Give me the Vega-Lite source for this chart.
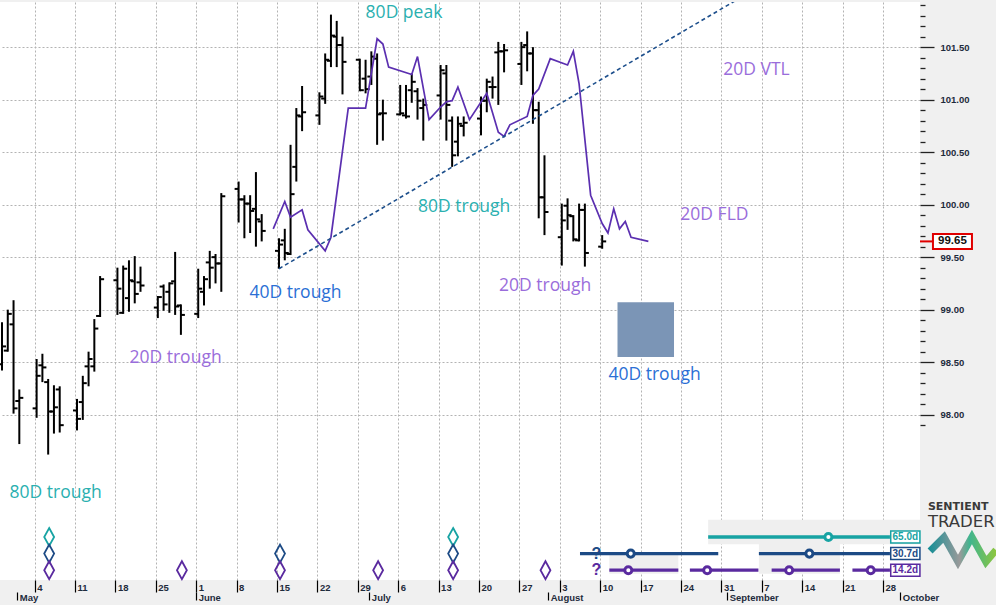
{
  "$schema": "https://vega.github.io/schema/vega-lite/v6.json",
  "background": "#f0f0f0",
  "padding": {"left": 0, "top": 0, "right": 0, "bottom": 8},
  "spacing": 0,
  "bounds": "flush",
  "resolve": {"scale": {"color": "independent", "stroke": "independent"}},
  "config": {"view": {"fill": "white", "stroke": null}, "concat": {"spacing": 0}},
  "datasets": {
    "bars": [
      {"date":"2020-04-28","o":98.48,"h":98.88,"l":98.42,"c":98.65},
      {"date":"2020-04-29","o":98.61,"h":99.00,"l":98.60,"c":98.96},
      {"date":"2020-04-30","o":98.86,"h":99.09,"l":98.01,"c":98.06},
      {"date":"2020-05-01","o":98.13,"h":98.24,"l":97.72,"c":98.16},
      {"date":"2020-05-04","o":98.06,"h":98.53,"l":97.97,"c":98.37},
      {"date":"2020-05-05","o":98.47,"h":98.58,"l":98.31,"c":98.45},
      {"date":"2020-05-06","o":98.31,"h":98.34,"l":97.62,"c":98.03},
      {"date":"2020-05-07","o":98.03,"h":98.28,"l":97.82,"c":98.07},
      {"date":"2020-05-08","o":98.24,"h":98.27,"l":97.83,"c":97.90},
      {"date":"2020-05-11","o":98.04,"h":98.15,"l":97.85,"c":97.96},
      {"date":"2020-05-12","o":98.12,"h":98.37,"l":97.95,"c":98.30},
      {"date":"2020-05-13","o":98.46,"h":98.60,"l":98.27,"c":98.53},
      {"date":"2020-05-14","o":98.46,"h":98.91,"l":98.41,"c":98.82},
      {"date":"2020-05-15","o":98.94,"h":99.32,"l":98.93,"c":99.29},
      {"date":"2020-05-18","o":99.28,"h":99.40,"l":98.95,"c":99.20},
      {"date":"2020-05-19","o":98.97,"h":99.42,"l":98.96,"c":99.39},
      {"date":"2020-05-20","o":99.11,"h":99.47,"l":98.98,"c":99.28},
      {"date":"2020-05-21","o":99.27,"h":99.51,"l":99.06,"c":99.15},
      {"date":"2020-05-22","o":99.26,"h":99.41,"l":99.17,"c":99.23},
      {"date":"2020-05-25","o":99.02,"h":99.13,"l":98.92,"c":99.12},
      {"date":"2020-05-26","o":99.22,"h":99.24,"l":98.99,"c":99.05},
      {"date":"2020-05-27","o":99.17,"h":99.26,"l":98.97,"c":99.25},
      {"date":"2020-05-28","o":99.27,"h":99.55,"l":98.95,"c":99.03},
      {"date":"2020-05-29","o":99.04,"h":99.05,"l":98.76,"c":98.95},
      {"date":"2020-06-01","o":98.96,"h":99.39,"l":98.92,"c":99.20},
      {"date":"2020-06-02","o":99.17,"h":99.32,"l":99.04,"c":99.29},
      {"date":"2020-06-03","o":99.45,"h":99.56,"l":99.20,"c":99.40},
      {"date":"2020-06-04","o":99.50,"h":99.53,"l":99.25,"c":99.44},
      {"date":"2020-06-05","o":99.44,"h":100.11,"l":99.17,"c":100.08},
      {"date":"2020-06-08","o":100.15,"h":100.22,"l":99.83,"c":100.05},
      {"date":"2020-06-09","o":100.05,"h":100.09,"l":99.68,"c":100.01},
      {"date":"2020-06-10","o":100.01,"h":100.09,"l":99.73,"c":99.94},
      {"date":"2020-06-11","o":99.96,"h":100.31,"l":99.60,"c":99.86},
      {"date":"2020-06-12","o":99.84,"h":99.91,"l":99.65,"c":99.75},
      {"date":"2020-06-15","o":99.56,"h":99.68,"l":99.39,"c":99.62},
      {"date":"2020-06-16","o":99.66,"h":99.77,"l":99.47,"c":99.54},
      {"date":"2020-06-17","o":99.53,"h":100.57,"l":99.52,"c":100.10},
      {"date":"2020-06-18","o":100.36,"h":100.92,"l":100.22,"c":100.85},
      {"date":"2020-06-19","o":100.84,"h":101.13,"l":100.70,"c":100.88},
      {"date":"2020-06-22","o":100.85,"h":101.07,"l":100.76,"c":101.03},
      {"date":"2020-06-23","o":101.01,"h":101.44,"l":100.96,"c":101.38},
      {"date":"2020-06-24","o":101.37,"h":101.81,"l":101.31,"c":101.61},
      {"date":"2020-06-25","o":101.60,"h":101.75,"l":101.31,"c":101.52},
      {"date":"2020-06-26","o":101.52,"h":101.60,"l":101.05,"c":101.36},
      {"date":"2020-06-29","o":101.38,"h":101.39,"l":101.08,"c":101.09},
      {"date":"2020-06-30","o":101.20,"h":101.38,"l":101.06,"c":101.10},
      {"date":"2020-07-01","o":101.22,"h":101.46,"l":101.14,"c":101.41},
      {"date":"2020-07-02","o":101.39,"h":101.44,"l":100.57,"c":100.86},
      {"date":"2020-07-03","o":100.87,"h":101.00,"l":100.61,"c":100.87},
      {"date":"2020-07-06","o":100.86,"h":101.14,"l":100.85,"c":100.87},
      {"date":"2020-07-07","o":100.85,"h":101.14,"l":100.82,"c":100.84},
      {"date":"2020-07-08","o":101.09,"h":101.25,"l":100.97,"c":101.17},
      {"date":"2020-07-09","o":101.08,"h":101.11,"l":100.81,"c":100.99},
      {"date":"2020-07-10","o":100.92,"h":101.01,"l":100.61,"c":100.95},
      {"date":"2020-07-13","o":101.04,"h":101.33,"l":100.81,"c":101.28},
      {"date":"2020-07-14","o":101.25,"h":101.33,"l":100.61,"c":100.95},
      {"date":"2020-07-15","o":100.80,"h":100.84,"l":100.36,"c":100.47},
      {"date":"2020-07-16","o":100.60,"h":100.84,"l":100.46,"c":100.77},
      {"date":"2020-07-17","o":100.75,"h":100.84,"l":100.65,"c":100.78},
      {"date":"2020-07-20","o":100.82,"h":101.03,"l":100.66,"c":100.99},
      {"date":"2020-07-21","o":100.99,"h":101.20,"l":100.88,"c":101.17},
      {"date":"2020-07-22","o":101.12,"h":101.22,"l":101.01,"c":101.12},
      {"date":"2020-07-23","o":101.45,"h":101.55,"l":100.95,"c":101.46},
      {"date":"2020-07-24","o":101.46,"h":101.53,"l":101.26,"c":101.47},
      {"date":"2020-07-27","o":101.34,"h":101.55,"l":101.14,"c":101.50},
      {"date":"2020-07-28","o":101.52,"h":101.65,"l":101.27,"c":101.44},
      {"date":"2020-07-29","o":101.44,"h":101.50,"l":100.77,"c":100.90},
      {"date":"2020-07-30","o":100.90,"h":100.98,"l":99.87,"c":100.07},
      {"date":"2020-07-31","o":100.07,"h":100.47,"l":99.71,"c":99.93},
      {"date":"2020-08-03","o":99.69,"h":100.01,"l":99.42,"c":99.85},
      {"date":"2020-08-04","o":99.99,"h":100.06,"l":99.76,"c":99.90},
      {"date":"2020-08-05","o":99.89,"h":99.90,"l":99.65,"c":99.67},
      {"date":"2020-08-06","o":99.66,"h":100.01,"l":99.65,"c":99.95},
      {"date":"2020-08-07","o":99.95,"h":100.01,"l":99.41,"c":99.54},
      {"date":"2020-08-10","o":99.60,"h":99.71,"l":99.58,"c":99.65}
    ],
    "fld": [
      {"date":"2020-06-14","value":99.77},{"date":"2020-06-16","value":100.03},{"date":"2020-06-17","value":99.88},
      {"date":"2020-06-19","value":99.95},{"date":"2020-06-20","value":99.76},{"date":"2020-06-23","value":99.56},
      {"date":"2020-06-24","value":99.69},{"date":"2020-06-27","value":100.92},{"date":"2020-06-30","value":100.92},
      {"date":"2020-07-02","value":101.58},{"date":"2020-07-03","value":101.53},{"date":"2020-07-04","value":101.31},
      {"date":"2020-07-08","value":101.24},{"date":"2020-07-09","value":101.41},{"date":"2020-07-11","value":100.81},
      {"date":"2020-07-13","value":100.93},{"date":"2020-07-14","value":100.98},{"date":"2020-07-15","value":100.99},
      {"date":"2020-07-16","value":101.12},{"date":"2020-07-18","value":100.81},{"date":"2020-07-21","value":101.06},
      {"date":"2020-07-23","value":100.69},{"date":"2020-07-24","value":100.65},{"date":"2020-07-25","value":100.76},
      {"date":"2020-07-28","value":100.84},{"date":"2020-07-29","value":101.04},{"date":"2020-07-30","value":101.10},
      {"date":"2020-08-01","value":101.39},{"date":"2020-08-04","value":101.33},{"date":"2020-08-05","value":101.46},
      {"date":"2020-08-06","value":101.15},{"date":"2020-08-08","value":100.09},{"date":"2020-08-10","value":99.82},
      {"date":"2020-08-11","value":99.73},{"date":"2020-08-12","value":99.96},{"date":"2020-08-13","value":99.77},
      {"date":"2020-08-14","value":99.84},{"date":"2020-08-15","value":99.69},{"date":"2020-08-18","value":99.65}
    ],
    "vtl": [{"date":"2020-06-15","value":99.39},{"date":"2020-09-02","value":101.94}],
    "proj": [{"date":"2020-08-13","end":"2020-08-22T19:00:00Z","low":98.55,"high":99.07}],
    "notes": [
      {"date":"2020-07-07T00:00:00Z","value":101.83,"text":"80D peak","cycle":"80D"},
      {"date":"2020-09-06T02:00:00Z","value":101.28,"text":"20D VTL","cycle":"20D"},
      {"date":"2020-07-17T10:00:00Z","value":99.98,"text":"80D trough","cycle":"80D"},
      {"date":"2020-08-29T19:00:00Z","value":99.90,"text":"20D FLD","cycle":"20D"},
      {"date":"2020-06-18T05:00:00Z","value":99.16,"text":"40D trough","cycle":"40D"},
      {"date":"2020-07-31T11:00:00Z","value":99.23,"text":"20D trough","cycle":"20D"},
      {"date":"2020-05-28T10:00:00Z","value":98.54,"text":"20D trough","cycle":"20D"},
      {"date":"2020-08-19T10:00:00Z","value":98.38,"text":"40D trough","cycle":"40D"},
      {"date":"2020-05-07T15:00:00Z","value":97.25,"text":"80D trough","cycle":"80D"}
    ],
    "last": [{"date":"2020-10-04T10:00:00Z","end":"2020-10-06T16:00:00Z","box":"2020-10-10T01:00:00Z","value":99.65}],
    "bands": [
      {"start":"2020-08-28T17:00:00Z","end":"2020-10-04T10:00:00Z","top":-0.04,"bottom":1.44},
      {"start":"2020-09-06T12:00:00Z","end":"2020-09-20T13:00:00Z","top":1.42,"bottom":3.21},
      {"start":"2020-08-11T14:00:00Z","end":"2020-08-23T13:00:00Z","top":2.09,"bottom":3.21}
    ],
    "diamonds": [
      {"date":"2020-05-06","cycle":"80D","lane":1},{"date":"2020-05-06","cycle":"40D","lane":2},{"date":"2020-05-06","cycle":"20D","lane":3},
      {"date":"2020-05-29","cycle":"20D","lane":3},
      {"date":"2020-06-15","cycle":"40D","lane":2},{"date":"2020-06-15","cycle":"20D","lane":3},
      {"date":"2020-07-02","cycle":"20D","lane":3},
      {"date":"2020-07-15","cycle":"80D","lane":1},{"date":"2020-07-15","cycle":"40D","lane":2},{"date":"2020-07-15","cycle":"20D","lane":3},
      {"date":"2020-07-31","cycle":"20D","lane":3}
    ],
    "segments": [
      {"start":"2020-08-28T17:00:00Z","end":"2020-09-29T05:00:00Z","cycle":"80D","lane":1},
      {"start":"2020-08-06T12:00:00Z","end":"2020-08-30T11:00:00Z","cycle":"40D","lane":2},
      {"start":"2020-09-06T12:00:00Z","end":"2020-09-29T05:00:00Z","cycle":"40D","lane":2},
      {"start":"2020-08-11T14:00:00Z","end":"2020-08-23T13:00:00Z","cycle":"20D","lane":3},
      {"start":"2020-08-25T13:00:00Z","end":"2020-09-06T10:00:00Z","cycle":"20D","lane":3},
      {"start":"2020-09-08T17:00:00Z","end":"2020-09-20T13:00:00Z","cycle":"20D","lane":3},
      {"start":"2020-09-22T17:00:00Z","end":"2020-09-29T05:00:00Z","cycle":"20D","lane":3}
    ],
    "dots": [
      {"date":"2020-09-18T13:00:00Z","cycle":"80D","lane":1},
      {"date":"2020-08-15T07:00:00Z","cycle":"40D","lane":2},
      {"date":"2020-09-15T06:00:00Z","cycle":"40D","lane":2},
      {"date":"2020-08-14T21:00:00Z","cycle":"20D","lane":3},
      {"date":"2020-08-28T13:00:00Z","cycle":"20D","lane":3},
      {"date":"2020-09-11T18:00:00Z","cycle":"20D","lane":3},
      {"date":"2020-09-25T21:00:00Z","cycle":"20D","lane":3}
    ],
    "unknown": [
      {"date":"2020-08-09T08:00:00Z","cycle":"40D","lane":2,"text":"?"},
      {"date":"2020-08-09T08:00:00Z","cycle":"20D","lane":3,"text":"?"}
    ],
    "periods": [
      {"date":"2020-10-01T21:00:00Z","cycle":"80D","lane":1,"text":"65.0d"},
      {"date":"2020-10-01T21:00:00Z","cycle":"40D","lane":2,"text":"30.7d"},
      {"date":"2020-10-01T21:00:00Z","cycle":"20D","lane":3,"text":"14.2d"}
    ],
    "logo1": [{"date":"2020-10-05T19:00:00Z","lane":-0.78,"text":"SENTIENT"}],
    "logo2": [{"date":"2020-10-05T19:00:00Z","lane":0.1,"text":"TRADER"}],
    "logomark": [
      {"date":"2020-10-06T04:00:00Z","lane":1.84},
      {"date":"2020-10-08T14:00:00Z","lane":1.0},
      {"date":"2020-10-11T00:00:00Z","lane":2.51},
      {"date":"2020-10-13T10:00:00Z","lane":1.0},
      {"date":"2020-10-15T20:00:00Z","lane":2.51},
      {"date":"2020-10-17T14:00:00Z","lane":1.78}
    ]
  },
  "vconcat": [
    {
      "width": 920,
      "height": 510,
      "encoding": {
        "x": {
          "field": "date", "type": "temporal",
          "scale": {"type": "utc", "domain": [{"year":2020,"month":4,"date":28,"utc":true},{"year":2020,"month":10,"date":4,"hours":10,"utc":true}]},
          "axis": {
            "values": [
              {"year":2020,"month":5,"date":4,"utc":true},{"year":2020,"month":5,"date":11,"utc":true},{"year":2020,"month":5,"date":18,"utc":true},{"year":2020,"month":5,"date":25,"utc":true},
              {"year":2020,"month":6,"date":1,"utc":true},{"year":2020,"month":6,"date":8,"utc":true},{"year":2020,"month":6,"date":15,"utc":true},{"year":2020,"month":6,"date":22,"utc":true},{"year":2020,"month":6,"date":29,"utc":true},
              {"year":2020,"month":7,"date":6,"utc":true},{"year":2020,"month":7,"date":13,"utc":true},{"year":2020,"month":7,"date":20,"utc":true},{"year":2020,"month":7,"date":27,"utc":true},
              {"year":2020,"month":8,"date":3,"utc":true},{"year":2020,"month":8,"date":10,"utc":true},{"year":2020,"month":8,"date":17,"utc":true},{"year":2020,"month":8,"date":24,"utc":true},{"year":2020,"month":8,"date":31,"utc":true},
              {"year":2020,"month":9,"date":7,"utc":true},{"year":2020,"month":9,"date":14,"utc":true},{"year":2020,"month":9,"date":21,"utc":true},{"year":2020,"month":9,"date":28,"utc":true}
            ],
            "tickCount": 60,
            "grid": true, "gridDash": [2, 2], "gridColor": "#b3b3b3", "gridWidth": 1,
            "labels": false, "ticks": false, "domain": false, "title": null,
            "minExtent": 0, "maxExtent": 0
          }
        }
      },
      "layer": [
        {
          "data": {"name": "bars"},
          "mark": {"type": "rule", "color": "#000000", "strokeWidth": 2, "xOffset": 2, "clip": true},
          "encoding": {
            "y": {
              "field": "l", "type": "quantitative",
              "scale": {"domain": [97.073, 101.93], "zero": false, "nice": false},
              "axis": {
                "orient": "right",
                "values": [97.9,98,98.1,98.2,98.3,98.4,98.5,98.6,98.7,98.8,98.9,99,99.1,99.2,99.3,99.4,99.5,99.6,99.7,99.8,99.9,100,100.1,100.2,100.3,100.4,100.5,100.6,100.7,100.8,100.9,101,101.1,101.2,101.3,101.4,101.5,101.6,101.7,101.8,101.9],
                "tickCount": 100,
                "labelExpr": "abs(datum.value*2-round(datum.value*2))<0.001 ? format(datum.value,'.2f') : ''",
                "grid": true, "gridDash": [2, 2], "gridColor": "#b3b3b3",
                "gridOpacity": {"condition": {"test": "abs(datum.value*2-round(datum.value*2))<0.001", "value": 1}, "value": 0},
                "tickSize": {"condition": {"test": "abs(datum.value*2-round(datum.value*2))<0.001", "value": 14}, "value": 5},
                "tickColor": "#222222", "tickWidth": 1.3,
                "domain": false, "title": null,
                "labelPadding": 6, "labelFont": "Liberation Sans", "labelFontSize": 9.5, "labelFontWeight": "bold", "labelColor": "#1e2b3c",
                "labelBaseline": "middle", "labelOverlap": false, "labelBound": false, "labelFlush": false,
                "minExtent": 76, "maxExtent": 76
              }
            },
            "y2": {"field": "h"}
          }
        },
        {
          "data": {"name": "bars"},
          "mark": {"type": "point", "shape": "M-1,0L0,0", "size": 64, "filled": false, "stroke": "#000000", "strokeWidth": 2, "opacity": 1, "xOffset": 2, "clip": true},
          "encoding": {"y": {"field": "o", "type": "quantitative", "scale": {"domain": [97.073, 101.93], "zero": false, "nice": false}}}
        },
        {
          "data": {"name": "bars"},
          "mark": {"type": "point", "shape": "M0,0L1,0", "size": 64, "filled": false, "stroke": "#000000", "strokeWidth": 2, "opacity": 1, "xOffset": 2, "clip": true},
          "encoding": {"y": {"field": "c", "type": "quantitative", "scale": {"domain": [97.073, 101.93], "zero": false, "nice": false}}}
        },
        {
          "data": {"name": "fld"},
          "mark": {"type": "line", "color": "#5b2fb0", "strokeWidth": 1.7, "xOffset": 2},
          "encoding": {"y": {"field": "value", "type": "quantitative", "scale": {"domain": [97.073, 101.93], "zero": false, "nice": false}}}
        },
        {
          "data": {"name": "vtl"},
          "mark": {"type": "line", "color": "#1d4f8c", "strokeWidth": 1.6, "strokeDash": [4, 3], "clip": true, "xOffset": 2},
          "encoding": {"y": {"field": "value", "type": "quantitative", "scale": {"domain": [97.073, 101.93], "zero": false, "nice": false}}}
        },
        {
          "data": {"name": "proj"},
          "mark": {"type": "rect", "color": "#7b95b6", "opacity": 1},
          "encoding": {
            "x2": {"field": "end"},
            "y": {"field": "low", "type": "quantitative", "scale": {"domain": [97.073, 101.93], "zero": false, "nice": false}},
            "y2": {"field": "high"}
          }
        },
        {
          "data": {"name": "notes"},
          "mark": {"type": "text", "font": "Open Sans", "fontSize": 17.5, "align": "center", "baseline": "middle"},
          "encoding": {
            "y": {"field": "value", "type": "quantitative", "scale": {"domain": [97.073, 101.93], "zero": false, "nice": false}},
            "text": {"field": "text"},
            "color": {"field": "cycle", "type": "nominal", "scale": {"domain": ["80D", "40D", "20D"], "range": ["#2ab0b0", "#2b6fd5", "#9a6ddb"]}, "legend": null}
          }
        },
        {
          "data": {"name": "last"},
          "mark": {"type": "rule", "color": "#e00000", "strokeWidth": 2},
          "encoding": {
            "x2": {"field": "end"},
            "y": {"field": "value", "type": "quantitative", "scale": {"domain": [97.073, 101.93], "zero": false, "nice": false}}
          }
        },
        {
          "data": {"name": "last"},
          "mark": {"type": "point", "shape": "M-1,-0.385L1,-0.385L1,0.385L-1,0.385Z", "size": 1521, "filled": true, "fill": "#ffffff", "stroke": "#e00000", "strokeWidth": 2, "opacity": 1},
          "encoding": {
            "x": {"field": "box", "type": "temporal"},
            "y": {"field": "value", "type": "quantitative", "scale": {"domain": [97.073, 101.93], "zero": false, "nice": false}}
          }
        },
        {
          "data": {"name": "last"},
          "mark": {"type": "text", "font": "Liberation Sans", "fontSize": 11.5, "fontWeight": "bold", "color": "#111111", "align": "center", "baseline": "middle"},
          "encoding": {
            "x": {"field": "box", "type": "temporal"},
            "y": {"field": "value", "type": "quantitative", "scale": {"domain": [97.073, 101.93], "zero": false, "nice": false}},
            "text": {"field": "value", "type": "quantitative", "format": ".2f"}
          }
        }
      ]
    },
    {
      "width": 920,
      "height": 68,
      "resolve": {"axis": {"x": "independent"}},
      "layer": [
        {
          "data": {"name": "bands"},
          "mark": {"type": "rect", "color": "#efefef", "opacity": 1},
          "encoding": {
            "x": {
              "field": "start", "type": "temporal",
              "scale": {"type": "utc", "domain": [{"year":2020,"month":4,"date":28,"utc":true},{"year":2020,"month":10,"date":4,"hours":10,"utc":true}]},
              "axis": {
                "orient": "bottom",
                "values": [
                  {"year":2020,"month":5,"date":4,"utc":true},{"year":2020,"month":5,"date":11,"utc":true},{"year":2020,"month":5,"date":18,"utc":true},{"year":2020,"month":5,"date":25,"utc":true},
                  {"year":2020,"month":6,"date":1,"utc":true},{"year":2020,"month":6,"date":8,"utc":true},{"year":2020,"month":6,"date":15,"utc":true},{"year":2020,"month":6,"date":22,"utc":true},{"year":2020,"month":6,"date":29,"utc":true},
                  {"year":2020,"month":7,"date":6,"utc":true},{"year":2020,"month":7,"date":13,"utc":true},{"year":2020,"month":7,"date":20,"utc":true},{"year":2020,"month":7,"date":27,"utc":true},
                  {"year":2020,"month":8,"date":3,"utc":true},{"year":2020,"month":8,"date":10,"utc":true},{"year":2020,"month":8,"date":17,"utc":true},{"year":2020,"month":8,"date":24,"utc":true},{"year":2020,"month":8,"date":31,"utc":true},
                  {"year":2020,"month":9,"date":7,"utc":true},{"year":2020,"month":9,"date":14,"utc":true},{"year":2020,"month":9,"date":21,"utc":true},{"year":2020,"month":9,"date":28,"utc":true}
                ],
                "tickCount": 60,
                "format": "%-d",
                "grid": true, "gridDash": [2, 2], "gridColor": "#b3b3b3",
                "domain": false, "ticks": true, "tickSize": 12, "tickColor": "#000000", "tickWidth": 1.2,
                "labelAlign": "left", "labelBaseline": "middle", "labelPadding": -5, "labelOffset": 2,
                "labelFont": "Liberation Sans", "labelFontSize": 9.5, "labelFontWeight": "bold", "labelColor": "#1e2b3c",
                "labelOverlap": false, "labelFlush": false, "labelBound": false, "title": null,
                "minExtent": 27, "maxExtent": 27
              }
            },
            "x2": {"field": "end"},
            "y": {"field": "top", "type": "quantitative", "scale": {"domain": [-0.506, 3.59], "reverse": true, "zero": false, "nice": false}, "axis": null},
            "y2": {"field": "bottom"}
          }
        },
        {
          "data": {"name": "diamonds"},
          "mark": {"type": "point", "shape": "M0,-1L0.55,0L0,1L-0.55,0Z", "size": 324, "filled": false, "strokeWidth": 1.8, "opacity": 1, "xOffset": 3},
          "encoding": {
            "x": {
              "field": "date", "type": "temporal",
              "scale": {"type": "utc", "domain": [{"year":2020,"month":4,"date":28,"utc":true},{"year":2020,"month":10,"date":4,"hours":10,"utc":true}]},
              "axis": {
                "orient": "bottom",
                "offset": 12,
                "values": [
                  {"year":2020,"month":5,"date":1,"utc":true},{"year":2020,"month":6,"date":1,"utc":true},{"year":2020,"month":7,"date":1,"utc":true},
                  {"year":2020,"month":8,"date":1,"utc":true},{"year":2020,"month":9,"date":1,"utc":true},{"year":2020,"month":10,"date":1,"utc":true}
                ],
                "tickCount": 60,
                "format": "%B",
                "grid": false, "domain": false, "ticks": true, "tickSize": 8, "tickColor": "#000000", "tickWidth": 1.2,
                "labelAlign": "left", "labelBaseline": "middle", "labelPadding": -3, "labelOffset": 2,
                "labelFont": "Liberation Sans", "labelFontSize": 9.5, "labelFontWeight": "bold", "labelColor": "#1e2b3c",
                "labelOverlap": false, "labelFlush": false, "labelBound": false, "title": null,
                "minExtent": 0, "maxExtent": 20
              }
            },
            "y": {"field": "lane", "type": "quantitative", "scale": {"domain": [-0.506, 3.59], "reverse": true, "zero": false, "nice": false}, "axis": null},
            "color": {"field": "cycle", "type": "nominal", "scale": {"domain": ["80D", "40D", "20D"], "range": ["#17a3a3", "#1c4a85", "#5a2a9f"]}, "legend": null}
          }
        },
        {
          "data": {"name": "segments"},
          "mark": {"type": "rule", "strokeWidth": 3.3},
          "encoding": {
            "x": {"field": "start", "type": "temporal", "scale": {"type": "utc", "domain": [{"year":2020,"month":4,"date":28,"utc":true},{"year":2020,"month":10,"date":4,"hours":10,"utc":true}]}, "axis": null},
            "x2": {"field": "end"},
            "y": {"field": "lane", "type": "quantitative", "scale": {"domain": [-0.506, 3.59], "reverse": true, "zero": false, "nice": false}, "axis": null},
            "color": {"field": "cycle", "type": "nominal", "scale": {"domain": ["80D", "40D", "20D"], "range": ["#17a3a3", "#1c4a85", "#5a2a9f"]}, "legend": null}
          }
        },
        {
          "data": {"name": "dots"},
          "mark": {"type": "point", "shape": "circle", "size": 50, "filled": true, "fill": "#ffffff", "strokeWidth": 3, "opacity": 1},
          "encoding": {
            "x": {"field": "date", "type": "temporal", "scale": {"type": "utc", "domain": [{"year":2020,"month":4,"date":28,"utc":true},{"year":2020,"month":10,"date":4,"hours":10,"utc":true}]}, "axis": null},
            "y": {"field": "lane", "type": "quantitative", "scale": {"domain": [-0.506, 3.59], "reverse": true, "zero": false, "nice": false}, "axis": null},
            "stroke": {"field": "cycle", "type": "nominal", "scale": {"domain": ["80D", "40D", "20D"], "range": ["#17a3a3", "#1c4a85", "#5a2a9f"]}, "legend": null}
          }
        },
        {
          "data": {"name": "unknown"},
          "mark": {"type": "text", "font": "Liberation Sans", "fontSize": 16, "fontWeight": "bold", "align": "center", "baseline": "middle"},
          "encoding": {
            "x": {"field": "date", "type": "temporal", "scale": {"type": "utc", "domain": [{"year":2020,"month":4,"date":28,"utc":true},{"year":2020,"month":10,"date":4,"hours":10,"utc":true}]}, "axis": null},
            "y": {"field": "lane", "type": "quantitative", "scale": {"domain": [-0.506, 3.59], "reverse": true, "zero": false, "nice": false}, "axis": null},
            "text": {"field": "text"},
            "color": {"field": "cycle", "type": "nominal", "scale": {"domain": ["80D", "40D", "20D"], "range": ["#17a3a3", "#1c4a85", "#5a2a9f"]}, "legend": null}
          }
        },
        {
          "data": {"name": "periods"},
          "mark": {"type": "point", "shape": "M-1,-0.41L1,-0.41L1,0.41L-1,0.41Z", "size": 853, "filled": true, "fill": "#ffffff", "strokeWidth": 1.5, "opacity": 1},
          "encoding": {
            "x": {"field": "date", "type": "temporal", "scale": {"type": "utc", "domain": [{"year":2020,"month":4,"date":28,"utc":true},{"year":2020,"month":10,"date":4,"hours":10,"utc":true}]}, "axis": null},
            "y": {"field": "lane", "type": "quantitative", "scale": {"domain": [-0.506, 3.59], "reverse": true, "zero": false, "nice": false}, "axis": null},
            "stroke": {"field": "cycle", "type": "nominal", "scale": {"domain": ["80D", "40D", "20D"], "range": ["#17a3a3", "#1c4a85", "#5a2a9f"]}, "legend": null}
          }
        },
        {
          "data": {"name": "periods"},
          "mark": {"type": "text", "font": "Liberation Sans", "fontSize": 10, "fontWeight": "bold", "align": "center", "baseline": "middle"},
          "encoding": {
            "x": {"field": "date", "type": "temporal", "scale": {"type": "utc", "domain": [{"year":2020,"month":4,"date":28,"utc":true},{"year":2020,"month":10,"date":4,"hours":10,"utc":true}]}, "axis": null},
            "y": {"field": "lane", "type": "quantitative", "scale": {"domain": [-0.506, 3.59], "reverse": true, "zero": false, "nice": false}, "axis": null},
            "text": {"field": "text"},
            "color": {"field": "cycle", "type": "nominal", "scale": {"domain": ["80D", "40D", "20D"], "range": ["#17a3a3", "#1c4a85", "#5a2a9f"]}, "legend": null}
          }
        },
        {
          "data": {"name": "logo1"},
          "mark": {"type": "text", "font": "DejaVu Sans", "fontSize": 11, "fontWeight": "bold", "color": "#3a3a3a", "align": "left", "baseline": "middle"},
          "encoding": {
            "x": {"field": "date", "type": "temporal", "scale": {"type": "utc", "domain": [{"year":2020,"month":4,"date":28,"utc":true},{"year":2020,"month":10,"date":4,"hours":10,"utc":true}]}, "axis": null},
            "y": {"field": "lane", "type": "quantitative", "scale": {"domain": [-0.506, 3.59], "reverse": true, "zero": false, "nice": false}, "axis": null},
            "text": {"field": "text"}
          }
        },
        {
          "data": {"name": "logo2"},
          "mark": {"type": "text", "font": "DejaVu Sans", "fontSize": 16.5, "color": "#3a3a3a", "align": "left", "baseline": "middle"},
          "encoding": {
            "x": {"field": "date", "type": "temporal", "scale": {"type": "utc", "domain": [{"year":2020,"month":4,"date":28,"utc":true},{"year":2020,"month":10,"date":4,"hours":10,"utc":true}]}, "axis": null},
            "y": {"field": "lane", "type": "quantitative", "scale": {"domain": [-0.506, 3.59], "reverse": true, "zero": false, "nice": false}, "axis": null},
            "text": {"field": "text"}
          }
        },
        {
          "data": {"name": "logomark"},
          "mark": {"type": "line", "strokeWidth": 7, "strokeJoin": "miter", "stroke": {"gradient": "linear", "x1": 0, "y1": 0, "x2": 1, "y2": 0, "stops": [{"offset": 0, "color": "#1b8f96"}, {"offset": 0.45, "color": "#9a9a9a"}, {"offset": 0.6, "color": "#3fb58f"}, {"offset": 1, "color": "#8dc63f"}]}},
          "encoding": {
            "x": {"field": "date", "type": "temporal", "scale": {"type": "utc", "domain": [{"year":2020,"month":4,"date":28,"utc":true},{"year":2020,"month":10,"date":4,"hours":10,"utc":true}]}, "axis": null},
            "y": {"field": "lane", "type": "quantitative", "scale": {"domain": [-0.506, 3.59], "reverse": true, "zero": false, "nice": false}, "axis": null}
          }
        }
      ]
    }
  ]
}
